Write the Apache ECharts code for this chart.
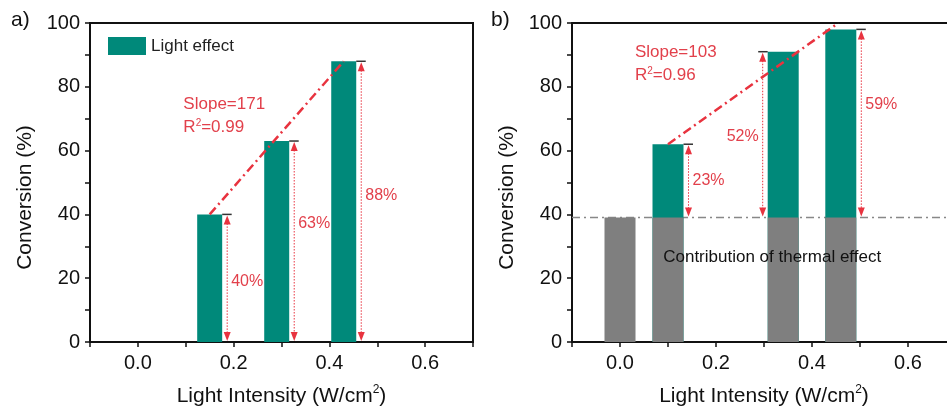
<!DOCTYPE html>
<html>
<head>
<meta charset="utf-8">
<script src="https://cdn.jsdelivr.net/npm/echarts@6/dist/echarts.min.js"></script>
<style>
  html, body { margin: 0; padding: 0; background: #fff; }
  #chart { width: 947px; height: 406px; }
</style>
</head>
<body>
<div id="chart"></div>
<script>
// ---------------- data ----------------
const intensityA = [0.15, 0.29, 0.43];
const conversionA = [40, 63, 88];
const percentA = ['40%', '63%', '88%'];
const fitA = [[0.15, 40], [0.43, 88]];
const slopeA = ['Slope=171', 'R{sup|2}=0.99'];

const intensityB = [0.0, 0.1, 0.34, 0.46];
const thermalB = [39, 39, 39, 39];
const intensityLightB = [0.1, 0.34, 0.46];
const totalB = [62, 91, 98];
const percentB = ['23%', '52%', '59%'];
const thermalLevel = 39;
const fitB = [[0.1, 62], [0.455, 100]];
const slopeB = ['Slope=103', 'R{sup|2}=0.96'];
const thermalNote = 'Contribution of thermal effect';

// ---------------- style / layout ----------------
const FONT = 'Liberation Sans, Arial, sans-serif';
const TEAL = '#00897a';
const GRAY = '#7f7f7f';
const RED = '#e8333f';
const RED_TEXT = '#e2404b';
const BW_A = 25, BW_B = 31;
// arrow side (+1 right of bar, -1 left) and label fraction
const arrowSideA = [1, 1, 1];
const labelFracA = [0.47, 0.59, 0.52];
const arrowSideB = [1, -1, 1];
const labelFracB = [0.51, 0.49, 0.6];

function xAxisCfg(gi) {
  return {
    type: 'value', gridIndex: gi, min: -0.1, max: 0.7, interval: 0.1,
    name: 'Light Intensity (W/cm{sup|2})', nameLocation: 'middle', nameGap: 42,
    nameTextStyle: { fontFamily: FONT, fontSize: 21, color: '#111',
      rich: { sup: { fontSize: 12, fontFamily: FONT, color: '#111', padding: [0, 0, 12, 0] } } },
    axisLine: { show: true, onZero: false, lineStyle: { color: '#111', width: 2 } },
    axisTick: { show: true, inside: false, length: 5, lineStyle: { color: '#111', width: 1.5 } },
    axisLabel: { margin: 11, fontFamily: FONT, fontSize: 20, color: '#111',
      formatter: v => (Math.abs(Math.round(v * 10)) % 2 === 0 ? v.toFixed(1) : '') },
    splitLine: { show: false }
  };
}
function topAxisCfg(gi) {
  return {
    type: 'value', gridIndex: gi, min: -0.1, max: 0.7, position: 'top',
    axisLine: { show: true, onZero: false, lineStyle: { color: '#111', width: 2 } },
    axisTick: { show: false }, axisLabel: { show: false }, splitLine: { show: false }
  };
}
function yAxisCfg(gi) {
  return {
    type: 'value', gridIndex: gi, min: 0, max: 100, interval: 10,
    name: 'Conversion (%)', nameLocation: 'middle', nameGap: 54,
    nameTextStyle: { fontFamily: FONT, fontSize: 21, color: '#111', padding: [0, 30, 0, 0] },
    axisLine: { show: true, onZero: false, lineStyle: { color: '#111', width: 2 } },
    axisTick: { show: true, inside: false, length: 5, lineStyle: { color: '#111', width: 1.5 } },
    axisLabel: { margin: 10, fontFamily: FONT, fontSize: 20, color: '#111',
      formatter: v => (v % 20 === 0 ? String(v) : '') },
    splitLine: { show: false }
  };
}

function arrowRenderer(sides, fracs, barW) {
  return function (params, api) {
    const i = params.dataIndex;
    const x = api.value(0), top = api.value(1), base = api.value(2);
    const pt = api.coord([x, top]);
    const pb = api.coord([x, base]);
    const s = sides[i];
    const ax = pt[0] + s * (barW / 2 + 5);
    const edge = pt[0] + s * barW / 2;
    const capEnd = ax + s * 4.5;
    const ty = pt[1], by = pb[1];
    const ly = by + fracs[i] * (ty - by);
    return {
      type: 'group',
      children: [
        { type: 'line', shape: { x1: edge, y1: ty, x2: capEnd, y2: ty },
          style: { stroke: '#333', lineWidth: 1.5 } },
        { type: 'line', shape: { x1: ax, y1: ty + 6, x2: ax, y2: by - 6 },
          style: { stroke: RED, lineWidth: 1, lineDash: [1.5, 1.5] } },
        { type: 'polygon', shape: { points: [[ax, ty + 1], [ax - 3.5, ty + 10], [ax + 3.5, ty + 10]] },
          style: { fill: RED } },
        { type: 'polygon', shape: { points: [[ax, by - 1], [ax - 3.5, by - 10], [ax + 3.5, by - 10]] },
          style: { fill: RED } },
        { type: 'text', x: ax + s * 4, y: ly,
          style: { text: api.value(3), fill: RED_TEXT, font: '16px ' + FONT,
            align: s > 0 ? 'left' : 'right', verticalAlign: 'middle' } }
      ]
    };
  };
}

function noteRenderer(params, api) {
  const p = api.coord([api.value(0), api.value(1)]);
  const col = api.value(3);
  return {
    type: 'text', x: p[0], y: p[1],
    style: {
      text: api.value(2), fill: col, font: api.value(4) + 'px ' + FONT,
      align: 'left', verticalAlign: 'middle',
      rich: { sup: { fontSize: 10, fill: col, fontFamily: FONT, padding: [0, 0, 9, 0] } }
    }
  };
}

const chart = echarts.init(document.getElementById('chart'), null, { renderer: 'canvas' });

const option = {
  animation: false,
  backgroundColor: '#fff',
  grid: [
    { left: 90, top: 23, width: 383, height: 319, show: true, borderColor: '#111', borderWidth: 2,
      containLabel: false, outerBoundsMode: 'none' },
    { left: 572, top: 23, width: 384, height: 319, show: false,
      containLabel: false, outerBoundsMode: 'none' }
  ],
  xAxis: [xAxisCfg(0), xAxisCfg(1), topAxisCfg(1)],
  yAxis: [yAxisCfg(0), yAxisCfg(1)],
  legend: {
    data: ['Light effect'], left: 108, top: 37, padding: 0,
    icon: 'rect', itemWidth: 38, itemHeight: 18, itemGap: 6,
    textStyle: { fontFamily: FONT, fontSize: 17, color: '#222' }
  },
  graphic: [
    { type: 'text', left: 11, top: 10, style: { text: 'a)', font: '21px ' + FONT, fill: '#111' } },
    { type: 'text', left: 491, top: 10, style: { text: 'b)', font: '21px ' + FONT, fill: '#111' } }
  ],
  series: [
    // panel a
    { name: 'Light effect', type: 'bar', xAxisIndex: 0, yAxisIndex: 0, barWidth: BW_A,
      itemStyle: { color: TEAL }, z: 2,
      data: intensityA.map((x, i) => [x, conversionA[i]]) },
    { type: 'line', xAxisIndex: 0, yAxisIndex: 0, data: fitA, symbol: 'none', z: 4,
      lineStyle: { color: RED, width: 2.5, type: [9, 4, 2, 4] } },
    { type: 'custom', xAxisIndex: 0, yAxisIndex: 0, z: 5,
      renderItem: arrowRenderer(arrowSideA, labelFracA, BW_A),
      data: intensityA.map((x, i) => [x, conversionA[i], 0, percentA[i]]) },
    { type: 'custom', xAxisIndex: 0, yAxisIndex: 0, z: 5, renderItem: noteRenderer,
      data: [[0.095, 74.6, slopeA[0], RED_TEXT, 17], [0.095, 67.2, slopeA[1], RED_TEXT, 17]] },

    // panel b
    { type: 'line', xAxisIndex: 1, yAxisIndex: 1, data: [[-0.1, thermalLevel], [0.7, thermalLevel]],
      symbol: 'none', z: 1, lineStyle: { color: '#888', width: 1.5, type: [8, 4, 2, 4] } },
    { name: 'Light effect', type: 'bar', xAxisIndex: 1, yAxisIndex: 1, barWidth: BW_B, barGap: '-100%',
      itemStyle: { color: TEAL }, z: 2,
      data: intensityLightB.map((x, i) => [x, totalB[i]]) },
    { name: 'Thermal', type: 'bar', xAxisIndex: 1, yAxisIndex: 1, barWidth: BW_B, barGap: '-100%',
      itemStyle: { color: GRAY }, z: 3,
      data: intensityB.map((x, i) => [x, thermalB[i]]) },
    { type: 'line', xAxisIndex: 1, yAxisIndex: 1, data: fitB, symbol: 'none', z: 4,
      lineStyle: { color: RED, width: 2.5, type: [9, 4, 2, 4] } },
    { type: 'custom', xAxisIndex: 1, yAxisIndex: 1, z: 5,
      renderItem: arrowRenderer(arrowSideB, labelFracB, BW_B),
      data: intensityLightB.map((x, i) => [x, totalB[i], thermalLevel, percentB[i]]) },
    { type: 'custom', xAxisIndex: 1, yAxisIndex: 1, z: 5, renderItem: noteRenderer,
      data: [[0.031, 90.9, slopeB[0], RED_TEXT, 17], [0.031, 83.6, slopeB[1], RED_TEXT, 17],
             [0.09, 26.6, thermalNote, '#111', 17]] }
  ]
};
chart.setOption(option);
</script>
</body>
</html>
